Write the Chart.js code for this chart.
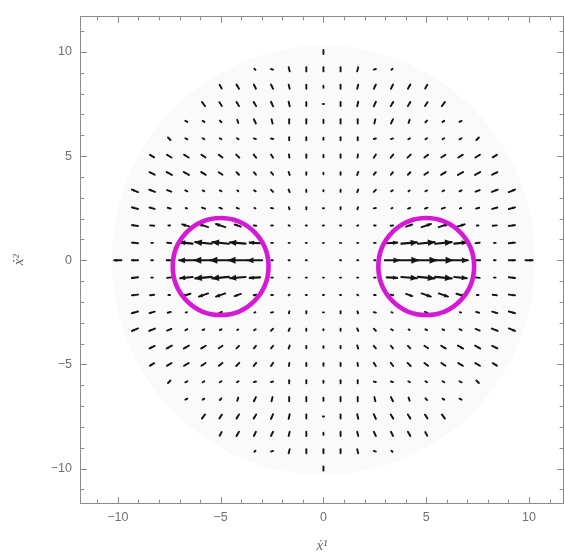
<!DOCTYPE html>
<html>
<head>
<meta charset="utf-8">
<script src="https://cdn.jsdelivr.net/npm/chart.js@4/dist/chart.umd.min.js"></script>
<style>
html, body { margin: 0; padding: 0; background: #fff; overflow: hidden; }
</style>
</head>
<body>
<canvas id="field-chart" width="565" height="558"></canvas>
<script>
// arrow positions along x and y (the grid is 0..10 in steps of 5/6)
const gridCoords = [0, 0.833, 1.667, 2.5, 3.333, 4.167, 5, 5.833, 6.667, 7.5, 8.333, 9.167, 10];

// drawn arrow vectors [dx, dy] for the upper right quadrant
// one row per y value of gridCoords, one entry per x value
const row0 = [null, [0.05, 0], [0.05, 0], [0.06, 0], [0.7, 0], [0.9, 0], [1.0, 0], [0.9, 0], [0.7, 0], [0.25, 0], [0.08, 0], [0.3, 0], [0.35, 0]];
const row1 = [[0.04, 0], [0.05, 0], [0.05, 0], [0.08, 0], [0.5, 0.03], [0.75, 0.06], [0.8, 0.08], [0.8, 0.08], [0.6, 0.06], [0.2, 0.02], [0.08, 0], [0.3, 0.03]];
const row2 = [[0.05, 0], [0.05, 0], [0.05, 0.03], [0.08, 0], [0.12, 0.02], [0.3, 0.1], [0.45, 0.15], [0.45, 0.15], [0.4, 0.12], [0.08, 0], [0.2, 0.02], [0.3, 0.04]];
const row3 = [[0.05, 0], [0, 0.1], [0.03, 0.1], [0.1, 0.02], [0.05, 0.02], [0.1, 0.04], [0.12, 0.05], [0.15, 0.05], [0.06, 0.02], [0.15, 0.04], [0.25, 0.07], [0.3, 0.08]];
const row4 = [[0, 0.05], [0, 0.1], [0.05, 0.12], [0.1, 0.1], [0.08, 0.05], [0.05, 0.03], [0.08, 0.04], [0.08, 0.04], [0.1, 0.05], [0.2, 0.08], [0.28, 0.11], [0.3, 0.12]];
const row5 = [[0, 0.08], [0, 0.12], [0.05, 0.15], [0.1, 0.12], [0.1, 0.12], [0.12, 0.12], [0.18, 0.12], [0.22, 0.13], [0.25, 0.14], [0.25, 0.14], [0.25, 0.12]];
const row6 = [[0, 0.12], [0, 0.15], [0.02, 0.15], [0.1, 0.15], [0.12, 0.15], [0.15, 0.15], [0.18, 0.13], [0.2, 0.13], [0.22, 0.13], [0.22, 0.13], [0.2, 0.12]];
const row7 = [[0, 0.1], [0, 0.15], [0, 0.15], [0.1, 0.02], [0.1, 0.03], [0.08, 0.05], [0.08, 0.05], [0.08, 0.05], [0.1, 0.05], [0.12, 0.12]];
const row8 = [[0, 0.15], [0, 0.2], [0, 0.2], [0.05, 0.2], [0.1, 0.2], [0.05, 0.15], [0.08, 0.08], [0.08, 0.05], [0.1, 0.05]];
const row9 = [[0.05, 0], [0, 0.2], [0.05, 0.22], [0.1, 0.22], [0.12, 0.2], [0.12, 0.2], [0.12, 0.18], [0.15, 0.2]];
const row10 = [[0, 0.1], [0, 0.2], [0.05, 0.2], [0.1, 0.2], [0.1, 0.2], [0.12, 0.2], [0.1, 0.18]];
const row11 = [[0, 0.2], [0, 0.2], [0.05, 0.2], [0.1, 0.03], [0.05, 0.05]];
const row12 = [[0, 0.2]];

const majorTicks = [-10, -5, 0, 5, 10];
const minorTicks = [-11, -10, -9, -8, -7, -6, -5, -4, -3, -2, -1, 0, 1, 2, 3, 4, 5, 6, 7, 8, 9, 10, 11];

// the two magenta circles
const circleX = [-5, 5];
const circleY = -0.3;
const circleR = 2.33;
// light grey region behind the arrows
const regionR = 10.3;

// the field is mirror symmetric in both axes: expand the quadrant to all four
const rows = [row0, row1, row2, row3, row4, row5, row6, row7, row8, row9, row10, row11, row12];
const arrows = [];
rows.forEach((row, j) => {
    row.forEach((v, i) => {
        if (!v) return;
        [1, -1].forEach(sx => {
            [1, -1].forEach(sy => {
                if ((i === 0 && sx < 0) || (j === 0 && sy < 0)) return;
                arrows.push({ x: sx * gridCoords[i], y: sy * gridCoords[j], dx: sx * v[0], dy: sy * v[1] });
            });
        });
    });
});

const frameColor = '#8c8c8c';

const fieldPlugin = {
    id: 'field',
    beforeDatasetsDraw(chart) {
        const ctx = chart.ctx;
        const xs = chart.scales.x, ys = chart.scales.y;
        const a = chart.chartArea;
        ctx.save();
        ctx.beginPath();
        ctx.rect(a.left, a.top, a.right - a.left, a.bottom - a.top);
        ctx.clip();
        ctx.fillStyle = '#fafafa';
        ctx.beginPath();
        ctx.ellipse(xs.getPixelForValue(0), ys.getPixelForValue(0),
            xs.getPixelForValue(regionR) - xs.getPixelForValue(0),
            ys.getPixelForValue(0) - ys.getPixelForValue(regionR), 0, 0, Math.PI * 2);
        ctx.fill();
        ctx.restore();
    },
    afterDatasetsDraw(chart) {
        const ctx = chart.ctx;
        const xs = chart.scales.x, ys = chart.scales.y;
        const a = chart.chartArea;
        ctx.save();

        // arrows, centred on their grid points
        ctx.strokeStyle = '#141414';
        ctx.fillStyle = '#141414';
        ctx.lineCap = 'round';
        chart.data.datasets[0].data.forEach(p => {
            const x0 = xs.getPixelForValue(p.x - p.dx / 2), x1 = xs.getPixelForValue(p.x + p.dx / 2);
            const y0 = ys.getPixelForValue(p.y - p.dy / 2), y1 = ys.getPixelForValue(p.y + p.dy / 2);
            const len = Math.hypot(x1 - x0, y1 - y0);
            ctx.lineWidth = len > 10 ? 2.2 : 1.9;
            ctx.beginPath();
            ctx.moveTo(x0, y0);
            ctx.lineTo(x1, y1);
            ctx.stroke();
            if (len > 4.5) {
                const ux = (x1 - x0) / len, uy = (y1 - y0) / len;
                const h = Math.min(0.4 * len, 7), w = h * 0.5;
                ctx.beginPath();
                ctx.moveTo(x1 + ux, y1 + uy);
                ctx.lineTo(x1 - ux * h - uy * w, y1 - uy * h + ux * w);
                ctx.lineTo(x1 - ux * h + uy * w, y1 - uy * h - ux * w);
                ctx.closePath();
                ctx.fill();
            }
        });

        // magenta circles
        ctx.strokeStyle = 'rgb(212, 26, 212)';
        ctx.lineWidth = 4.6;
        circleX.forEach(cx => {
            ctx.beginPath();
            ctx.ellipse(xs.getPixelForValue(cx), ys.getPixelForValue(circleY),
                xs.getPixelForValue(circleR) - xs.getPixelForValue(0),
                ys.getPixelForValue(0) - ys.getPixelForValue(circleR), 0, 0, Math.PI * 2);
            ctx.stroke();
        });

        // frame with inward ticks on all four sides
        ctx.strokeStyle = frameColor;
        ctx.lineWidth = 1;
        const L = Math.round(a.left) + 0.5, R = Math.round(a.right) - 0.5;
        const T = Math.round(a.top) + 0.5, B = Math.round(a.bottom) - 0.5;
        ctx.strokeRect(L, T, R - L, B - T);
        ctx.beginPath();
        minorTicks.forEach(v => {
            const len = majorTicks.includes(v) ? 6 : 3.5;
            const px = Math.round(xs.getPixelForValue(v)) + 0.5;
            ctx.moveTo(px, B); ctx.lineTo(px, B - len);
            ctx.moveTo(px, T); ctx.lineTo(px, T + len);
            const py = Math.round(ys.getPixelForValue(v)) + 0.5;
            ctx.moveTo(L, py); ctx.lineTo(L + len, py);
            ctx.moveTo(R, py); ctx.lineTo(R - len, py);
        });
        ctx.stroke();
        ctx.restore();
    }
};

const tickFont = { family: 'Liberation Sans', size: 12.5 };
const minusSign = v => String(v).replace('-', '\u2212');

new Chart(document.getElementById('field-chart').getContext('2d'), {
    type: 'scatter',
    data: {
        datasets: [{
            data: arrows,
            pointRadius: 0,
            pointHoverRadius: 0
        }]
    },
    options: {
        responsive: false,
        animation: false,
        events: [],
        layout: { padding: { top: 14, right: 1, left: 0, bottom: 0 } },
        plugins: {
            legend: { display: false },
            tooltip: { enabled: false }
        },
        scales: {
            x: {
                type: 'linear',
                min: -11.84,
                max: 11.7,
                grid: { display: false, drawTicks: false },
                border: { display: false },
                afterBuildTicks: axis => { axis.ticks = majorTicks.map(v => ({ value: v })); },
                afterFit: axis => { axis.height = 54; },
                ticks: { padding: 6, color: '#707070', font: tickFont, maxRotation: 0, autoSkip: false, callback: minusSign },
                title: {
                    display: true,
                    text: 'x\u0307\u00b9',
                    color: '#6a6a6a',
                    font: { family: 'Liberation Serif', size: 15, style: 'italic' },
                    padding: { top: 0, bottom: 3 }
                }
            },
            y: {
                type: 'linear',
                min: -11.7,
                max: 11.75,
                grid: { display: false, drawTicks: false },
                border: { display: false },
                afterBuildTicks: axis => { axis.ticks = majorTicks.map(v => ({ value: v })); },
                afterFit: axis => { axis.width = 80; },
                ticks: { padding: 8, color: '#707070', font: tickFont, autoSkip: false, callback: minusSign },
                title: {
                    display: true,
                    text: 'x\u0307\u00b2',
                    color: '#6a6a6a',
                    font: { family: 'Liberation Serif', size: 15, style: 'italic' },
                    padding: { top: 10, bottom: 0 }
                }
            }
        }
    },
    plugins: [fieldPlugin]
});
</script>
</body>
</html>
